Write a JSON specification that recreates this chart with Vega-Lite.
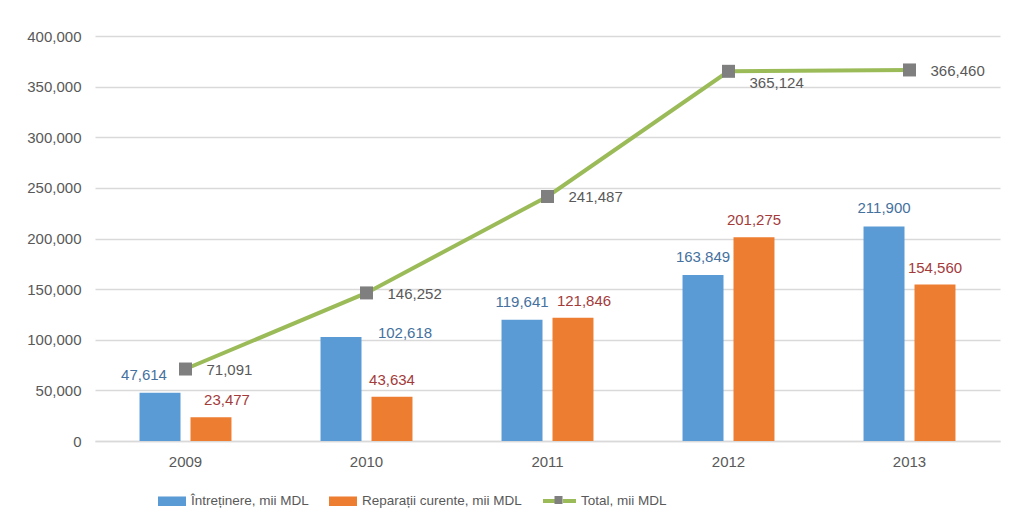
{
  "$schema": "https://vega.github.io/schema/vega-lite/v6.json",
  "width": 905,
  "height": 405,
  "autosize": {"type": "none"},
  "padding": {"left": 95, "top": 36, "right": 11, "bottom": 82},
  "background": "white",
  "config": {
    "view": {"stroke": null},
    "font": "Liberation Sans",
    "text": {"font": "Liberation Sans", "fontSize": 15}
  },
  "datasets": {
    "parts": [
      {"year": "2009", "series": "Întreținere, mii MDL", "value": 47614},
      {"year": "2010", "series": "Întreținere, mii MDL", "value": 102618},
      {"year": "2011", "series": "Întreținere, mii MDL", "value": 119641},
      {"year": "2012", "series": "Întreținere, mii MDL", "value": 163849},
      {"year": "2013", "series": "Întreținere, mii MDL", "value": 211900},
      {"year": "2009", "series": "Reparații curente, mii MDL", "value": 23477},
      {"year": "2010", "series": "Reparații curente, mii MDL", "value": 43634},
      {"year": "2011", "series": "Reparații curente, mii MDL", "value": 121846},
      {"year": "2012", "series": "Reparații curente, mii MDL", "value": 201275},
      {"year": "2013", "series": "Reparații curente, mii MDL", "value": 154560}
    ],
    "total": [
      {"year": "2009", "line": "Total, mii MDL", "value": 71091},
      {"year": "2010", "line": "Total, mii MDL", "value": 146252},
      {"year": "2011", "line": "Total, mii MDL", "value": 241487},
      {"year": "2012", "line": "Total, mii MDL", "value": 365124},
      {"year": "2013", "line": "Total, mii MDL", "value": 366460}
    ]
  },
  "encoding": {
    "x": {
      "field": "year",
      "type": "nominal",
      "scale": {"domain": ["2009", "2010", "2011", "2012", "2013"], "paddingInner": 0.492, "paddingOuter": 0.246},
      "axis": {
        "title": null,
        "labelAngle": 0,
        "labelFontSize": 15,
        "labelColor": "#595959",
        "labelPadding": 13,
        "ticks": false,
        "domain": true,
        "domainColor": "#D9D9D9",
        "domainWidth": 1.5
      }
    },
    "y": {
      "field": "value",
      "type": "quantitative",
      "scale": {"domain": [0, 400000], "nice": false},
      "axis": {
        "title": null,
        "values": [0, 50000, 100000, 150000, 200000, 250000, 300000, 350000, 400000],
        "format": ",d",
        "labelFontSize": 15,
        "labelColor": "#595959",
        "labelPadding": 14,
        "ticks": false,
        "domain": false,
        "grid": true,
        "gridColor": "#D9D9D9",
        "gridWidth": 1.5
      }
    }
  },
  "layer": [
    {
      "data": {"name": "parts"},
      "mark": {"type": "bar"},
      "encoding": {
        "xOffset": {
          "field": "series",
          "type": "nominal",
          "scale": {"domain": ["Întreținere, mii MDL", "Reparații curente, mii MDL"], "paddingInner": 0.196, "paddingOuter": 0}
        },
        "color": {
          "field": "series",
          "type": "nominal",
          "scale": {"domain": ["Întreținere, mii MDL", "Reparații curente, mii MDL"], "range": ["#5B9BD5", "#ED7D31"]},
          "legend": {
            "orient": "none",
            "legendX": 63,
            "legendY": 451,
            "direction": "horizontal",
            "title": null,
            "symbolType": "M-1,-0.34H1V0.34H-1Z",
            "symbolSize": 784,
            "symbolStrokeWidth": 0,
            "labelFont": "Liberation Sans",
            "labelFontSize": 13.5,
            "labelColor": "#595959",
            "labelOffset": 5,
            "labelLimit": 300,
            "columnPadding": 20
          }
        }
      }
    },
    {
      "data": {"name": "total"},
      "mark": {"type": "line", "strokeWidth": 4},
      "encoding": {
        "stroke": {
          "field": "line",
          "type": "nominal",
          "scale": {"domain": ["Total, mii MDL"], "range": ["#9BBB59"]},
          "legend": {
            "orient": "none",
            "legendX": 446,
            "legendY": 446.5,
            "title": null,
            "symbolType": "M-1,0H-0.2M0.2,0H1",
            "symbolSize": 1089,
            "symbolStrokeWidth": 4,
            "symbolFillColor": "transparent",
            "labelFont": "Liberation Sans",
            "labelFontSize": 13.5,
            "labelColor": "#595959",
            "labelOffset": 3,
            "labelLimit": 300
          }
        }
      }
    },
    {
      "data": {"name": "total"},
      "mark": {"type": "point", "filled": true, "size": 169, "color": "#7F7F7F", "opacity": 1},
      "encoding": {
        "shape": {
          "field": "line",
          "type": "nominal",
          "scale": {"domain": ["Total, mii MDL", "marker"], "range": ["square", "square"]},
          "legend": {
            "orient": "none",
            "legendX": 458.5,
            "legendY": 459,
            "title": null,
            "values": ["Total, mii MDL"],
            "symbolSize": 64,
            "symbolFillColor": "#7F7F7F",
            "symbolStrokeColor": "#7F7F7F",
            "symbolStrokeWidth": 0,
            "symbolOpacity": 1,
            "labelExpr": "''"
          }
        }
      }
    },
    {
      "data": {"name": "parts"},
      "transform": [{"filter": "datum.series === 'Întreținere, mii MDL' && datum.year !== '2010' && datum.year !== '2009'"}],
      "mark": {"type": "text", "baseline": "middle", "dy": -18, "color": "#44719E"},
      "encoding": {
        "xOffset": {"field": "series", "type": "nominal"},
        "text": {"field": "value", "type": "quantitative", "format": ",d"}
      }
    },
    {
      "data": {"name": "parts"},
      "transform": [{"filter": "datum.series === 'Întreținere, mii MDL' && datum.year === '2009'"}],
      "mark": {"type": "text", "baseline": "middle", "dy": -18, "dx": -16, "color": "#44719E"},
      "encoding": {
        "xOffset": {"field": "series", "type": "nominal"},
        "text": {"field": "value", "type": "quantitative", "format": ",d"}
      }
    },
    {
      "data": {"name": "parts"},
      "transform": [{"filter": "datum.series === 'Întreținere, mii MDL' && datum.year === '2010'"}],
      "mark": {"type": "text", "baseline": "middle", "dy": -4, "dx": 64, "color": "#44719E"},
      "encoding": {
        "xOffset": {"field": "series", "type": "nominal"},
        "text": {"field": "value", "type": "quantitative", "format": ",d"}
      }
    },
    {
      "data": {"name": "parts"},
      "transform": [{"filter": "datum.series === 'Reparații curente, mii MDL' && datum.year !== '2009' && datum.year !== '2011'"}],
      "mark": {"type": "text", "baseline": "middle", "dy": -17, "color": "#A33B3B"},
      "encoding": {
        "xOffset": {"field": "series", "type": "nominal"},
        "text": {"field": "value", "type": "quantitative", "format": ",d"}
      }
    },
    {
      "data": {"name": "parts"},
      "transform": [{"filter": "datum.series === 'Reparații curente, mii MDL' && datum.year === '2009'"}],
      "mark": {"type": "text", "baseline": "middle", "dy": -17, "dx": 16, "color": "#A33B3B"},
      "encoding": {
        "xOffset": {"field": "series", "type": "nominal"},
        "text": {"field": "value", "type": "quantitative", "format": ",d"}
      }
    },
    {
      "data": {"name": "parts"},
      "transform": [{"filter": "datum.series === 'Reparații curente, mii MDL' && datum.year === '2011'"}],
      "mark": {"type": "text", "baseline": "middle", "dy": -17, "dx": 11, "color": "#A33B3B"},
      "encoding": {
        "xOffset": {"field": "series", "type": "nominal"},
        "text": {"field": "value", "type": "quantitative", "format": ",d"}
      }
    },
    {
      "data": {"name": "total"},
      "transform": [{"filter": "datum.year !== '2012'"}],
      "mark": {"type": "text", "align": "left", "baseline": "middle", "dx": 21, "dy": 1, "color": "#595959"},
      "encoding": {
        "text": {"field": "value", "type": "quantitative", "format": ",d"}
      }
    },
    {
      "data": {"name": "total"},
      "transform": [{"filter": "datum.year === '2012'"}],
      "mark": {"type": "text", "align": "left", "baseline": "middle", "dx": 21, "dy": 12, "color": "#595959"},
      "encoding": {
        "text": {"field": "value", "type": "quantitative", "format": ",d"}
      }
    }
  ]
}
